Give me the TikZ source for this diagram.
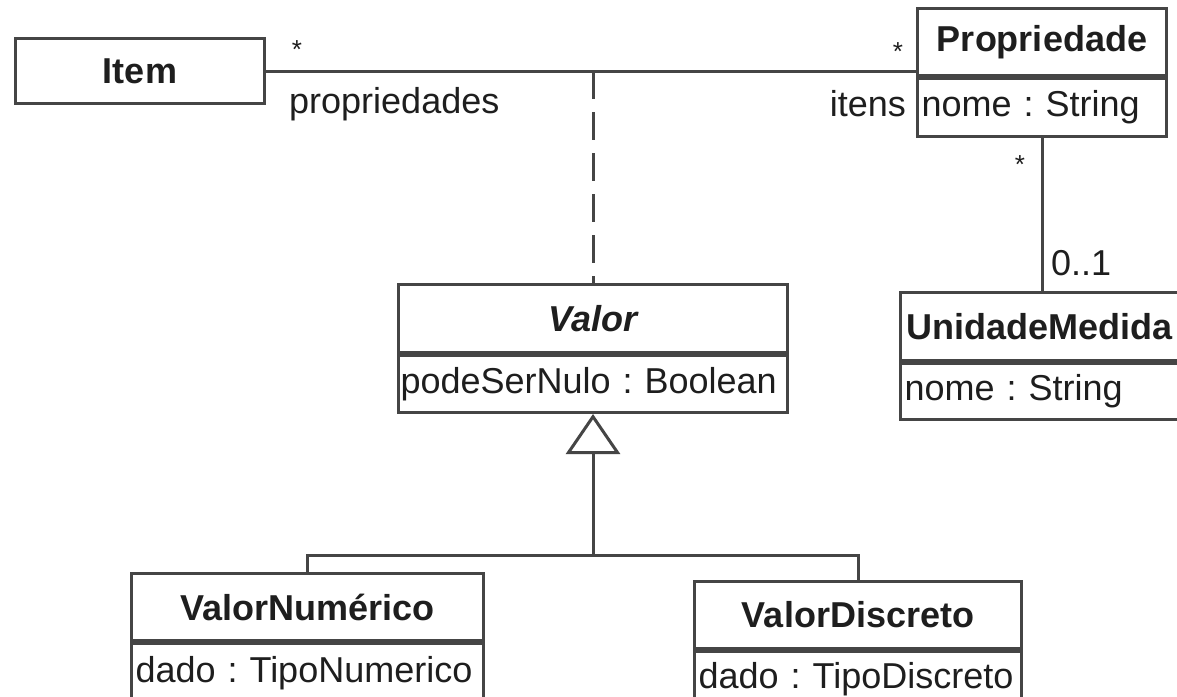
\documentclass[tikz,border=0pt]{standalone}
\usepackage{fontspec}
\setmainfont{Liberation Sans}
\usetikzlibrary{arrows.meta,calc}
\definecolor{linec}{HTML}{454545}
\definecolor{txt}{HTML}{1E1E1E}
\frenchspacing
\begin{document}
\begin{tikzpicture}[x=1pt,y=-1pt,
  font=\fontsize{36}{40}\selectfont, text=txt,
  box/.style={draw=linec, line width=3pt, inner sep=0pt, anchor=north west, fill=white},
  clsname/.style={box, font=\fontsize{36}{40}\selectfont\bfseries},
  attr/.style={box, inner xsep=4pt, align=left},
  lab/.style={inner sep=0pt},
  star/.style={inner sep=0pt, font=\fontsize{26}{30}\selectfont},
  conn/.style={draw=linec, line width=3pt},
]
\useasboundingbox (0,0) rectangle (1177,696);
\clip (0,0) rectangle (1177,696);
\fill[white] (0,0) rectangle (1177,696);

% classes
\node[clsname, minimum width=249pt, minimum height=65pt] (item) at (14,37) {Item};

\node[clsname, minimum width=249pt, minimum height=67pt] (prop) at (916,7) {Propriedade};
\node[attr, text width=241pt, minimum height=58pt] (propattr) at (prop.south west) {\mbox{nome : String}};

\node[clsname, text width=290pt, inner xsep=6pt, align=left, minimum height=68pt] (um) at (899,291) {\mbox{UnidadeMedida}};
\node[attr, text width=294pt, minimum height=56pt] (umattr) at (um.south west) {\mbox{nome : String}};

\node[clsname, minimum width=389pt, minimum height=68pt, font=\fontsize{36}{40}\selectfont\bfseries\itshape] (valor) at (397,283) {Valor};
\node[attr, text width=385pt, minimum height=57pt, inner xsep=2pt] (valorattr) at (valor.south west) {\mbox{podeSerNulo : Boolean}};

\node[clsname, minimum width=352pt, minimum height=67pt] (vn) at (130,572) {ValorNumérico};
\node[attr, text width=344pt, minimum height=60pt] (vnattr) at (vn.south west) {\mbox{dado : TipoNumerico}};

\node[clsname, minimum width=327pt, minimum height=67pt] (vd) at (693,580) {ValorDiscreto};
\node[attr, text width=319pt, minimum height=56pt] (vdattr) at (vd.south west) {\mbox{dado : TipoDiscreto}};

% association Item -- Propriedade
\coordinate (pend) at (item.east -| prop.west);
\draw[conn] (item.east) -- (pend);
% association class (dashed)
\coordinate (amid) at (valor.north |- item.east);
\draw[conn, dash pattern=on 28pt off 13pt] (amid) -- (valor.north);
% Propriedade -- UnidadeMedida
\coordinate (utop) at (propattr.south |- um.north);
\draw[conn] (propattr.south) -- (utop);
% generalization
\coordinate (junction) at ($(valorattr.south)+(0,141)$);
\draw[conn] (vn.north) |- (junction) -| (vd.north);
\draw[conn, -{Triangle[open, length=40pt, width=54pt, line width=3pt]}] (junction) -- (valorattr.south);

% labels
\node[star] (s1) at (297,50) {*};
\node[lab, anchor=west] (rolep) at (289,104) {propriedades};
\node[star] (s2) at (898,52) {*};
\node[lab, anchor=east] (rolei) at (906,104) {itens};
\node[star] (s3) at (1020,165) {*};
\node[lab, anchor=west] (m01) at (1051,263) {0..1};
\end{tikzpicture}
\end{document}
